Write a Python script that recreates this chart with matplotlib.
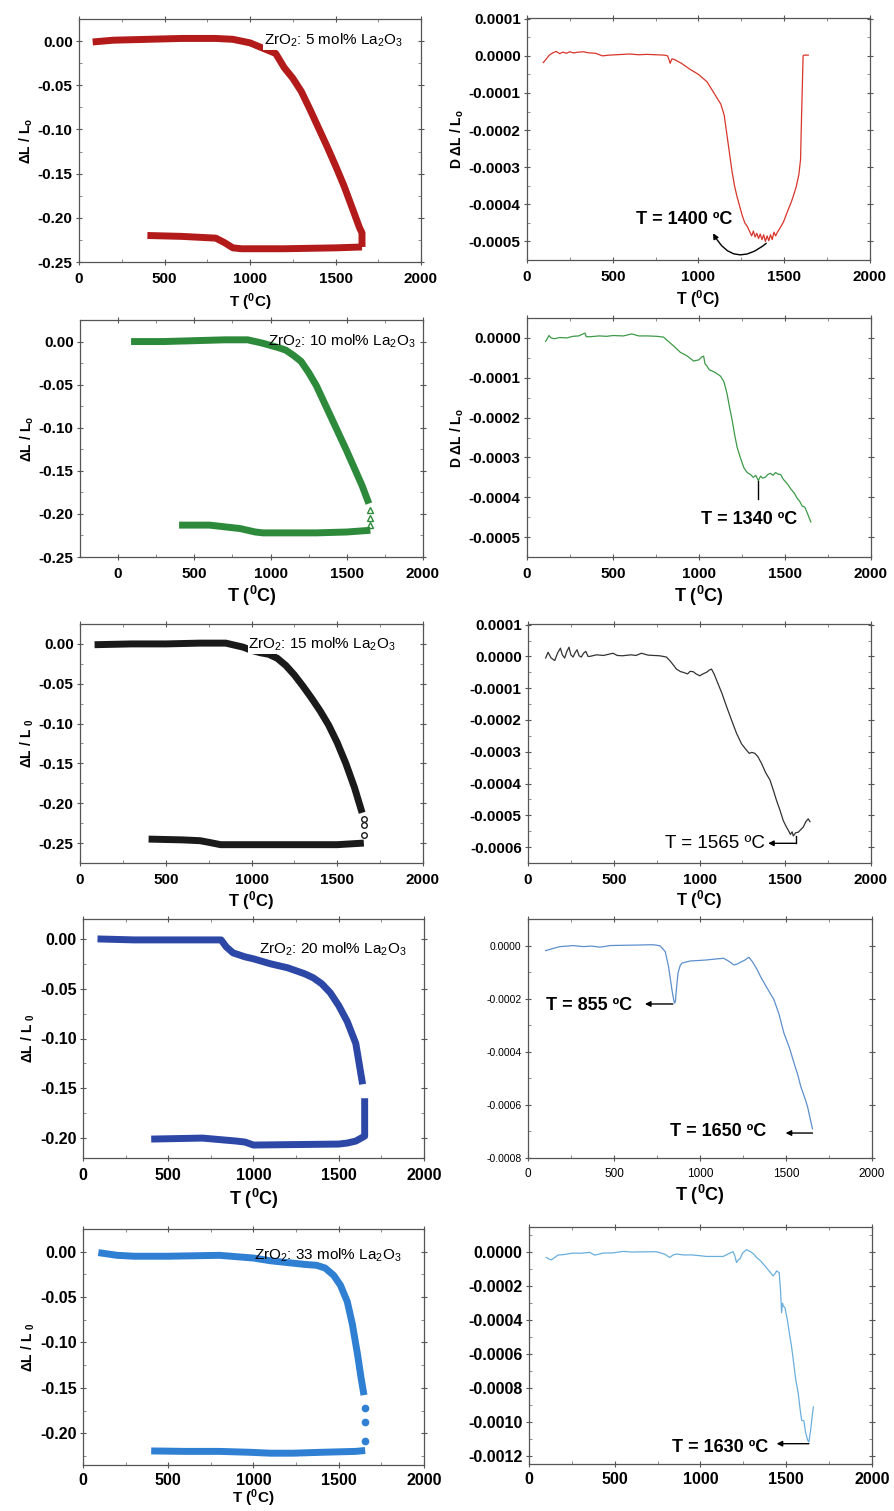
import numpy as np
import matplotlib
matplotlib.use("Agg")
import matplotlib.pyplot as plt
from matplotlib.ticker import MultipleLocator, FuncFormatter

plt.rcParams.update({
    "font.family": ["Liberation Sans", "DejaVu Sans"],
    "mathtext.fontset": "custom",
    "mathtext.rm": "Liberation Sans",
    "mathtext.default": "regular",
    "axes.unicode_minus": False,
})

# ---------------- dilatometry curves: dL/L0 vs T ----------------
# 5 mol% La2O3
t5_heat = [80, 200, 400, 600, 800, 900, 1000, 1050, 1100, 1150, 1200, 1250, 1300,
           1350, 1400, 1450, 1500, 1550, 1600, 1640, 1655, 1655]
dl5_heat = [-0.001, 0.001, 0.002, 0.003, 0.003, 0.002, -0.002, -0.006, -0.010, -0.014,
            -0.030, -0.042, -0.057, -0.077, -0.098, -0.119, -0.141, -0.164, -0.190,
            -0.211, -0.217, -0.233]
t5_cool = [1655, 1500, 1200, 950, 900, 850, 800, 600, 400]
dl5_cool = [-0.233, -0.234, -0.235, -0.235, -0.234, -0.228, -0.223, -0.221, -0.220]

# 10 mol% La2O3
t10_heat = [85, 300, 500, 700, 850, 950, 1050, 1100, 1150, 1200, 1250, 1300, 1350,
            1400, 1450, 1500, 1550, 1600, 1645]
dl10_heat = [0.000, 0.000, 0.001, 0.002, 0.002, -0.002, -0.007, -0.010, -0.016, -0.023,
             -0.036, -0.051, -0.070, -0.089, -0.108, -0.127, -0.147, -0.167, -0.188]
t10_dots = [1655, 1655, 1655]
dl10_dots = [-0.195, -0.205, -0.213]
t10_cool = [1655, 1500, 1300, 1100, 950, 900, 850, 800, 700, 600, 400]
dl10_cool = [-0.219, -0.221, -0.222, -0.222, -0.222, -0.221, -0.219, -0.217, -0.215,
             -0.213, -0.213]

# 15 mol% La2O3
t15_heat = [85, 300, 500, 700, 850, 950, 1000, 1050, 1100, 1150, 1200, 1250, 1300,
            1350, 1400, 1450, 1500, 1550, 1600, 1645]
dl15_heat = [-0.001, 0.000, 0.000, 0.001, 0.001, -0.004, -0.008, -0.011, -0.013, -0.018,
             -0.027, -0.039, -0.053, -0.068, -0.084, -0.102, -0.124, -0.150, -0.180, -0.212]
t15_dots = [1655, 1655, 1655]
dl15_dots = [-0.220, -0.227, -0.240]
t15_cool = [1655, 1500, 1200, 900, 820, 750, 700, 600, 400]
dl15_cool = [-0.250, -0.252, -0.252, -0.252, -0.252, -0.249, -0.247, -0.246, -0.245]

# 20 mol% La2O3
t20_heat = [85, 300, 500, 700, 810, 840, 880, 950, 1000, 1100, 1200, 1300, 1350, 1400,
            1450, 1500, 1550, 1600, 1640]
dl20_heat = [0.000, -0.001, -0.001, -0.001, -0.001, -0.008, -0.014, -0.018, -0.020, -0.025,
             -0.029, -0.035, -0.039, -0.045, -0.054, -0.067, -0.083, -0.105, -0.146]
t20_cool = [1652, 1652, 1600, 1550, 1500, 1000, 950, 900, 700, 400]
dl20_cool = [-0.160, -0.198, -0.203, -0.205, -0.206, -0.207, -0.204, -0.203, -0.200, -0.201]

# 33 mol% La2O3
t33_heat = [90, 200, 300, 500, 800, 1000, 1100, 1200, 1300, 1370, 1420, 1470, 1510,
            1550, 1580, 1610, 1630, 1648]
dl33_heat = [-0.001, -0.004, -0.005, -0.005, -0.004, -0.007, -0.010, -0.012, -0.014,
             -0.015, -0.018, -0.026, -0.037, -0.055, -0.080, -0.113, -0.138, -0.158]
t33_dots = [1655, 1655, 1655]
dl33_dots = [-0.172, -0.188, -0.209]
t33_cool = [1655, 1600, 1400, 1230, 1100, 980, 800, 600, 400]
dl33_cool = [-0.219, -0.220, -0.221, -0.222, -0.222, -0.221, -0.220, -0.220, -0.2195]

# ---------------- derivative curves (units of 1e-4) ----------------
td5 = [95, 110, 130, 150, 170, 190, 210, 230, 250, 270, 300, 330, 360, 400, 440, 480,
       520, 560, 600, 650, 700, 750, 800, 820, 835, 845, 860, 900, 950, 1000, 1050, 1090,
       1110, 1130, 1150, 1165, 1180, 1195, 1210, 1225, 1240, 1255, 1270, 1285, 1300,
       1310, 1320, 1330, 1340, 1350, 1360, 1370, 1380, 1390, 1400, 1410, 1420, 1430,
       1440, 1450, 1460, 1470, 1480, 1495, 1510, 1525, 1540, 1555, 1570, 1585, 1595,
       1600, 1605, 1610, 1615, 1640]
dd5 = [-0.18, -0.10, 0.02, 0.08, 0.12, 0.06, 0.10, 0.07, 0.11, 0.08, 0.10, 0.11, 0.08,
       0.07, 0.00, 0.02, 0.03, 0.04, 0.05, 0.03, 0.04, 0.03, 0.02, 0.00, -0.20, -0.08,
       -0.10, -0.20, -0.36, -0.50, -0.70, -1.00, -1.15, -1.30, -1.60, -2.10, -2.60, -3.10,
       -3.50, -3.80, -4.05, -4.30, -4.50, -4.60, -4.75, -4.85, -4.72, -4.88, -4.78, -4.92,
       -4.80, -4.95, -4.82, -5.00, -4.85, -4.98, -4.82, -4.95, -4.75, -4.85, -4.75, -4.68,
       -4.60, -4.48, -4.30, -4.12, -3.95, -3.75, -3.52, -3.20, -2.80, -1.80, -0.90, 0.00,
       0.02, 0.02]

td10 = [108, 118, 128, 140, 160, 190, 230, 268, 300, 337, 345, 366, 420, 463, 500, 560,
        609, 650, 700, 755, 794, 820, 852, 891, 930, 969, 1000, 1015, 1027, 1035, 1045,
        1060, 1086, 1105, 1125, 1145, 1163, 1178, 1193, 1208, 1222, 1240, 1261, 1280,
        1300, 1315, 1330, 1345, 1358, 1370, 1385, 1400, 1415, 1430, 1445, 1460, 1475,
        1490, 1505, 1520, 1535, 1553, 1570, 1585, 1600, 1615, 1630, 1650]
dd10 = [-0.09, -0.02, 0.06, 0.00, -0.02, 0.01, 0.00, 0.04, 0.05, 0.12, 0.03, 0.03, 0.05,
        0.04, 0.06, 0.05, 0.10, 0.05, 0.05, 0.04, 0.02, -0.08, -0.20, -0.36, -0.45, -0.58,
        -0.55, -0.48, -0.46, -0.65, -0.70, -0.80, -0.85, -0.90, -0.96, -1.10, -1.40, -1.75,
        -2.07, -2.45, -2.75, -3.00, -3.26, -3.38, -3.43, -3.50, -3.45, -3.58, -3.47, -3.52,
        -3.50, -3.43, -3.40, -3.45, -3.38, -3.42, -3.43, -3.55, -3.62, -3.70, -3.80, -3.89,
        -4.02, -4.10, -4.22, -4.25, -4.40, -4.62]

td15 = [103, 117, 135, 156, 172, 189, 200, 214, 226, 239, 250, 263, 275, 286, 298, 311,
        324, 337, 350, 360, 400, 440, 496, 520, 550, 600, 630, 661, 700, 768, 807, 830,
        866, 890, 905, 930, 945, 963, 980, 1002, 1020, 1041, 1060, 1070, 1085, 1099, 1130,
        1158, 1190, 1216, 1245, 1274, 1290, 1305, 1323, 1340, 1362, 1385, 1411, 1430,
        1449, 1470, 1488, 1505, 1518, 1530, 1540, 1547, 1560, 1576, 1590, 1605, 1620,
        1634, 1644]
dd15 = [-0.05, 0.13, -0.05, -0.13, 0.10, 0.26, 0.05, -0.05, 0.15, 0.29, 0.05, -0.02,
        0.12, 0.21, 0.02, -0.02, 0.10, 0.16, 0.00, 0.00, 0.05, 0.03, 0.10, 0.03, 0.02,
        0.05, 0.03, 0.10, 0.04, 0.02, -0.02, -0.15, -0.40, -0.48, -0.50, -0.55, -0.47,
        -0.48, -0.55, -0.61, -0.55, -0.50, -0.42, -0.40, -0.55, -0.74, -1.15, -1.58,
        -2.05, -2.42, -2.75, -2.95, -3.05, -3.02, -3.05, -3.15, -3.37, -3.65, -3.89,
        -4.20, -4.53, -4.85, -5.16, -5.35, -5.47, -5.60, -5.52, -5.65, -5.55, -5.53,
        -5.45, -5.37, -5.20, -5.11, -5.20]

td20 = [103, 140, 185, 230, 263, 321, 370, 418, 450, 477, 550, 652, 700, 730, 768, 798,
        817, 837, 847, 852, 857, 862, 872, 885, 895, 944, 1000, 1041, 1100, 1138, 1170,
        1197, 1215, 1235, 1260, 1284, 1304, 1330, 1352, 1390, 1430, 1460, 1488, 1520,
        1547, 1570, 1586, 1610, 1625, 1640, 1654]
dd20 = [-0.19, -0.12, -0.04, -0.02, 0.00, -0.04, -0.02, -0.06, -0.03, 0.00, 0.01, 0.02,
        0.03, 0.03, -0.01, -0.23, -0.79, -1.67, -2.05, -2.17, -2.10, -1.70, -1.04, -0.75,
        -0.66, -0.58, -0.56, -0.54, -0.50, -0.48, -0.60, -0.73, -0.70, -0.63, -0.55,
        -0.44, -0.60, -0.88, -1.17, -1.60, -2.04, -2.60, -3.30, -3.85, -4.43, -4.90,
        -5.31, -5.75, -6.06, -6.50, -6.90]

td33 = [101, 118, 130, 150, 169, 210, 257, 300, 354, 383, 410, 432, 490, 549, 600, 650,
        743, 790, 821, 840, 860, 900, 950, 1000, 1035, 1080, 1132, 1170, 1190, 1200, 1210,
        1220, 1229, 1245, 1268, 1290, 1310, 1327, 1350, 1375, 1400, 1424, 1435, 1444,
        1452, 1459, 1467, 1473, 1478, 1483, 1492, 1505, 1518, 1530, 1541, 1555, 1570,
        1580, 1590, 1603, 1612, 1625, 1632, 1642, 1650, 1658]
dd33 = [-0.30, -0.40, -0.44, -0.30, -0.16, -0.12, -0.04, -0.05, 0.00, -0.16, -0.10,
        -0.04, -0.03, 0.06, 0.02, 0.03, 0.04, -0.10, -0.30, -0.15, -0.10, -0.15, -0.15,
        -0.20, -0.24, -0.24, -0.24, -0.05, 0.04, -0.20, -0.60, -0.45, -0.40, -0.05, 0.16,
        0.05, -0.10, -0.30, -0.50, -0.79, -1.10, -1.39, -1.25, -1.09, -1.15, -1.20, -2.30,
        -3.57, -3.00, -3.17, -3.25, -3.90, -4.76, -5.50, -6.35, -7.50, -8.33, -9.20,
        -9.92, -9.95, -10.60, -11.10, -11.20, -10.50, -9.80, -9.13]

SCALE = 1e-4

W, H = 895, 1511
fig = plt.figure(figsize=(W / 100, H / 100), dpi=100)


def box(left, right, top, bottom):
    return [left / W, 1 - bottom / H, (right - left) / W, (bottom - top) / H]


def fmt(decimals):
    def f(v, pos):
        if abs(v) < 1e-12:
            v = 0.0
        return f"{v:.{decimals}f}"
    return FuncFormatter(f)


def setup(ax, xlim, ylim, ystep, decimals, fs=11, weight="bold", xfs=None, xpad=4.5):
    ax.set_xlim(*xlim)
    ax.set_ylim(*ylim)
    ax.xaxis.set_major_locator(MultipleLocator(500))
    ax.xaxis.set_minor_locator(MultipleLocator(250))
    ax.yaxis.set_major_locator(MultipleLocator(ystep))
    ax.yaxis.set_minor_locator(MultipleLocator(ystep / 2))
    ax.yaxis.set_major_formatter(fmt(decimals))
    ax.tick_params(which="major", direction="inout", length=5, width=0.8,
                   color="#555555", top=True, right=True, pad=2)
    ax.tick_params(axis="x", which="major", pad=xpad)
    ax.tick_params(which="minor", direction="in", length=2.5, width=0.6,
                   color="#777777", top=True, right=True)
    for lab in ax.get_yticklabels():
        lab.set_fontsize(fs)
        lab.set_fontweight(weight)
    for lab in ax.get_xticklabels():
        lab.set_fontsize(xfs if xfs else fs)
        lab.set_fontweight(weight)
    for sp in ax.spines.values():
        sp.set_color("#555555")
        sp.set_linewidth(0.9)


def arrow(ax, start, end):
    ax.annotate("", xy=end, xytext=start,
                arrowprops=dict(arrowstyle="-|>", color="black", lw=1.0,
                                mutation_scale=8, shrinkA=0, shrinkB=0))


def band(ax, t, v, c):
    ax.plot(t, v, color=c, lw=BAND, solid_capstyle="butt", solid_joinstyle="round")


BAND = 5.0
label_kw = dict(fontsize=10, fontweight="bold")
anno_kw = dict(fontsize=13, fontweight="bold")
comp_kw = dict(fontsize=11)

# ---- row 1 ----
ax = fig.add_axes(box(79, 421, 19, 262))
c = "#b31b1b"
band(ax, t5_heat, dl5_heat, c)
band(ax, t5_cool, dl5_cool, c)
setup(ax, (0, 2000), (-0.25, 0.025), 0.05, 2)
ax.set_ylabel("ΔL / L$_o$", labelpad=2, **label_kw)
ax.set_xlabel("T ($^0$C)", labelpad=4, fontsize=11, fontweight="bold")
ax.text(1080, 0.001, "ZrO$_2$: 5 mol% La$_2$O$_3$", va="center", ha="left", zorder=5,
        bbox=dict(facecolor="white", edgecolor="none", pad=0.5), **comp_kw)

ax = fig.add_axes(box(527, 870, 18, 260))
ax.plot(td5, np.array(dd5) * SCALE, color="#d8352a", lw=0.9)
setup(ax, (0, 2000), (-0.00055, 0.000102), 0.0001, 4)
ax.set_ylabel("D ΔL / L$_o$", labelpad=2, **label_kw)
ax.set_xlabel("T ($^0$C)", labelpad=3, fontsize=11.5, fontweight="bold")
ax.text(1200, -0.00044, "T = 1400 ºC", ha="right", va="center", **anno_kw)
ax.annotate("", xy=(1085, -0.000478), xytext=(1395, -0.000505),
            arrowprops=dict(arrowstyle="-|>", color="black", lw=1.0, mutation_scale=8,
                            shrinkA=0, shrinkB=0, connectionstyle="arc3,rad=-0.6"))

# ---- row 2 ----
ax = fig.add_axes(box(80, 423, 320, 557))
c = "#2e8a3b"
band(ax, t10_heat, dl10_heat, c)
band(ax, t10_cool, dl10_cool, c)
ax.plot(t10_dots, dl10_dots, "^", color=c, mfc="none", ms=4, mew=1)
setup(ax, (-250, 2000), (-0.25, 0.025), 0.05, 2)
ax.set_ylabel("ΔL / L$_o$", labelpad=2, **label_kw)
ax.set_xlabel("T ($^0$C)", labelpad=2, fontsize=13, fontweight="bold")
ax.text(982, 0.0, "ZrO$_2$: 10 mol% La$_2$O$_3$", va="center", ha="left", zorder=5, **comp_kw)

ax = fig.add_axes(box(527, 871, 318, 557))
ax.plot(td10, np.array(dd10) * SCALE, color="#3d9a48", lw=0.9)
setup(ax, (0, 2000), (-0.00055, 0.00005), 0.0001, 4)
ax.set_ylabel("D ΔL / L$_o$", labelpad=2, **label_kw)
ax.set_xlabel("T ($^0$C)", labelpad=2, fontsize=13, fontweight="bold")
ax.text(1294, -0.000457, "T = 1340 ºC", ha="center", va="center", **anno_kw)
ax.plot([1345, 1345], [-0.000358, -0.000405], color="black", lw=1)

# ---- row 3 ----
ax = fig.add_axes(box(80, 423, 624, 863))
c = "#1a1a1a"
band(ax, t15_heat, dl15_heat, c)
band(ax, t15_cool, dl15_cool, c)
ax.plot(t15_dots, dl15_dots, "o", color=c, mfc="none", ms=4, mew=1)
setup(ax, (0, 2000), (-0.275, 0.025), 0.05, 2)
ax.set_ylabel("ΔL / L $_0$", labelpad=2, **label_kw)
ax.set_xlabel("T ($^0$C)", labelpad=2, fontsize=12, fontweight="bold")
ax.text(982, -0.001, "ZrO$_2$: 15 mol% La$_2$O$_3$", va="center", ha="left", zorder=5,
        bbox=dict(facecolor="white", edgecolor="none", pad=0.5), **comp_kw)

ax = fig.add_axes(box(528, 871, 624, 863))
ax.plot(td15, np.array(dd15) * SCALE, color="#333333", lw=0.9)
setup(ax, (0, 2000), (-0.00065, 0.000102), 0.0001, 4)
ax.set_xlabel("T ($^0$C)", labelpad=1, fontsize=12, fontweight="bold")
ax.text(1381, -0.000589, "T = 1565 ºC", ha="right", va="center", fontsize=13.5)
ax.plot([1560, 1560], [-0.000565, -0.000588], color="black", lw=1)
arrow(ax, (1560, -0.000588), (1400, -0.000588))

# ---- row 4 ----
ax = fig.add_axes(box(83, 424, 919, 1158))
c = "#2c47a6"
band(ax, t20_heat, dl20_heat, c)
band(ax, t20_cool, dl20_cool, c)
setup(ax, (0, 2000), (-0.22, 0.02), 0.05, 2, fs=11.5)
ax.set_ylabel("ΔL / L $_0$", labelpad=2, **label_kw)
ax.set_xlabel("T ($^0$C)", labelpad=3, fontsize=13, fontweight="bold")
ax.text(1031, -0.010, "ZrO$_2$: 20 mol% La$_2$O$_3$", va="center", ha="left", zorder=5, **comp_kw)

ax = fig.add_axes(box(528, 872, 919, 1158))
ax.plot(td20, np.array(dd20) * SCALE, color="#5d8fcc", lw=0.9)
setup(ax, (0, 2000), (-0.0008, 0.0001), 0.0002, 4, fs=7.5, weight="normal", xfs=8.5)
ax.set_xlabel("T ($^0$C)", labelpad=2, fontsize=13, fontweight="bold")
ax.text(107, -0.000227, "T = 855 ºC", ha="left", va="center", **anno_kw)
arrow(ax, (842, -0.00022), (680, -0.00022))
ax.text(827, -0.000702, "T = 1650 ºC", ha="left", va="center", **anno_kw)
arrow(ax, (1654, -0.000706), (1498, -0.000706))

# ---- row 5 ----
ax = fig.add_axes(box(83, 424, 1229, 1465))
c = "#2f7fd3"
band(ax, t33_heat, dl33_heat, c)
band(ax, t33_cool, dl33_cool, c)
ax.plot(t33_dots, dl33_dots, "o", color=c, ms=4.5)
setup(ax, (0, 2000), (-0.235, 0.025), 0.05, 2, fs=11.5, xpad=3)
ax.set_ylabel("ΔL / L $_0$", labelpad=2, **label_kw)
ax.set_xlabel("T ($^0$C)", labelpad=0, fontsize=11, fontweight="bold")
ax.text(1004, -0.004, "ZrO$_2$: 33 mol% La$_2$O$_3$", va="center", ha="left", zorder=5, **comp_kw)

ax = fig.add_axes(box(529, 872, 1227, 1464))
ax.plot(td33, np.array(dd33) * SCALE, color="#6aafdc", lw=0.9)
setup(ax, (0, 2000), (-0.00125, 0.00015), 0.0002, 4, fs=11.5, xpad=3)
ax.text(831, -0.00115, "T = 1630 ºC", ha="left", va="center", **anno_kw)
arrow(ax, (1632, -0.00113), (1444, -0.00113))

fig.savefig("out.png", dpi=100, facecolor="white")
